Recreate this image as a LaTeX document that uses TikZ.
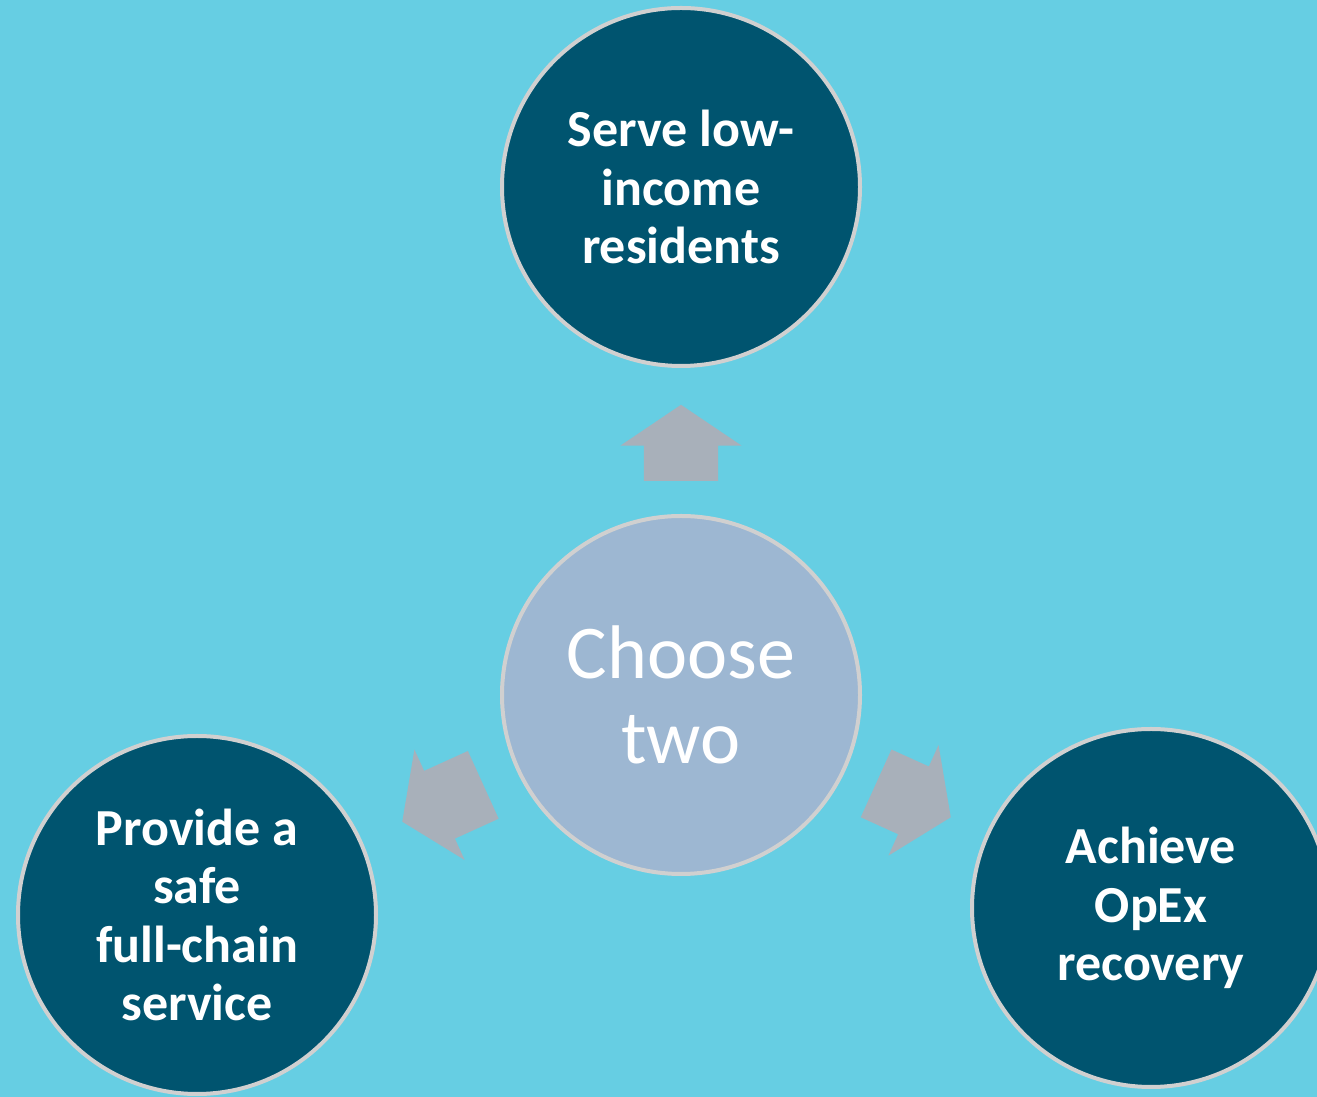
\documentclass[tikz,border=0pt]{standalone}
\usepackage{fontspec}
\setmainfont{Carlito}
\usetikzlibrary{
shapes.arrows,
calc
}
\definecolor{skyback}{RGB}{102,206,227}
\definecolor{deepteal}{RGB}{0,84,111}
\definecolor{paleblue}{RGB}{157,183,210}
\definecolor{ringgray}{RGB}{208,208,208}
\definecolor{pointergray}{RGB}{168,176,186}

\begin{document}
\begin{tikzpicture}[
x=1pt,y=1pt,
goal/.style={
circle,
draw=ringgray,
line width=4pt,
fill=deepteal,
minimum size=358pt,
inner sep=0pt,
align=center,
text=white,
font=\bfseries\fontsize{52}{58.5}\selectfont
},
hub/.style={
goal,
fill=paleblue,
font=\fontsize{76}{85}\selectfont
},
pointer/.style={
single arrow,
fill=pointergray,
minimum height=82pt,
inner xsep=0pt,
inner ysep=37pt,
single arrow head extend=23.5pt,
single arrow tip angle=112,
anchor=tail,
pos=1,
sloped,
allow upside down
}
]

\fill[skyback] (0,0) rectangle (1317,1097);
\useasboundingbox (0,0) rectangle (1317,1097);

\node[hub] (choose) at (681,402) {Choose\\two};
\node[goal] (serve) at (681,910) {Serve low-\\income\\residents};
\node[goal] (provide) at (197,182) {Provide a\\safe\\full-chain\\service};
\node[goal] (achieve) at (1151,189) {Achieve\\OpEx\\recovery};

% arrows start at a fixed distance from the hub centre
\path (choose.center) -- node[pointer,minimum height=76pt] (toserve) {} ($(choose.center)!214pt!(serve.center)$);
\path (choose.center) -- node[pointer,minimum height=89pt] (toprovide) {} ($(choose.center)!217pt!(provide.center)$);
\path (choose.center) -- node[pointer] (toachieve) {} ($(choose.center)!214pt!(achieve.center)$);

\end{tikzpicture}
\end{document}
